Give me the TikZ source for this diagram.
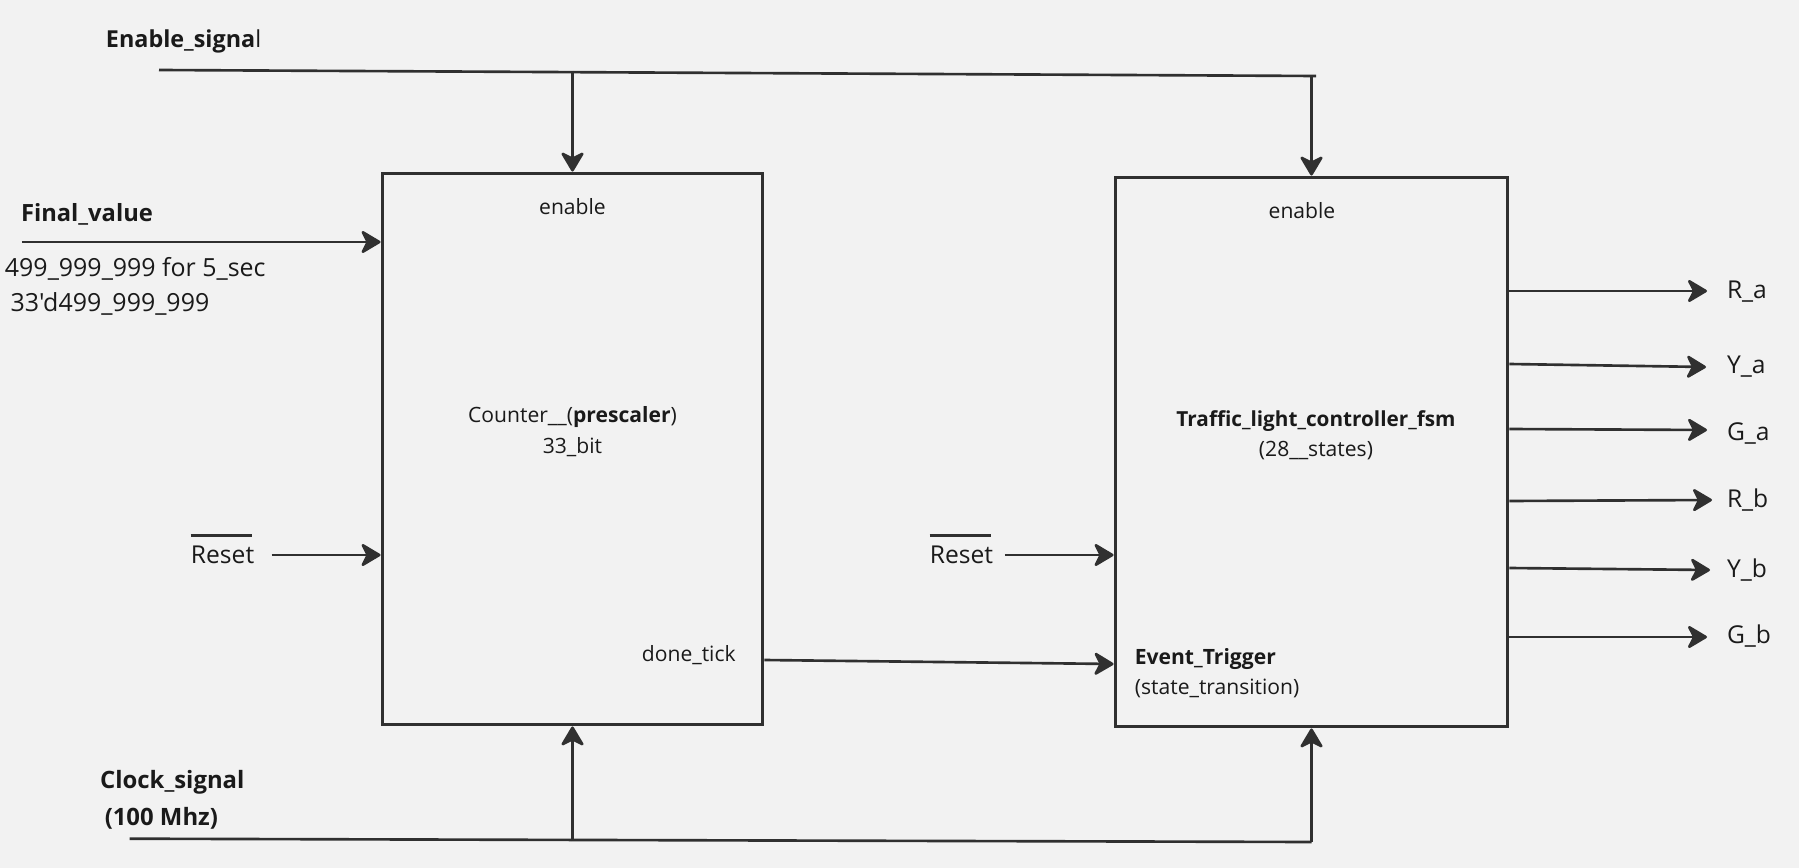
\documentclass[tikz,border=0pt]{standalone}
\usepackage{fontspec}
\setmainfont{Open Sans}[Ligatures=TeXOff]
\usetikzlibrary{arrows.meta}

\definecolor{paper}{HTML}{F2F2F2}
\definecolor{ink}{HTML}{303030}
\definecolor{txt}{HTML}{1A1A1A}

\tikzset{
	sig/.style={-{Stealth[length=0.44cm, width=0.52cm, inset=0.13cm, round]}, draw=ink, line width=1.5pt},
	wire/.style={draw=ink, line width=1.5pt},
	blk/.style={draw=ink, line width=1.7pt, fill=paper},
	lbl/.style={text=txt, inner sep=0pt, font=\fontsize{12}{14}\selectfont},
	outlbl/.style={text=txt, anchor=west, inner sep=0pt, outer sep=0.4cm, font=\fontsize{14}{16}\selectfont}
}

\begin{document}
\begin{tikzpicture}[x=0.02cm, y=-0.02cm]
		\fill[paper] (0,0) rectangle (1799,868);
		\useasboundingbox (0,0) rectangle (1799,868);

		% the two blocks
		\node (cnt) [blk, minimum width=7.62cm, minimum height=11.04cm] at (572.5,449) {};
		\node (fsm) [blk, minimum width=7.86cm, minimum height=11.0cm] at (1311.5,452) {};

		\node (enA) [lbl] at (572.5,207) {enable};
		\node (enB) [lbl] at (1302,210.5) {enable};
		\node (cntTxt) [lbl, align=center, font=\fontsize{12}{17.6}\selectfont] at (572.5,431.5) {Counter\_\_(\textbf{prescaler})\\33\_bit};
		\node (fsmTxt) [lbl, align=center, font=\fontsize{12}{17.2}\selectfont] at (1316,435) {{\fontsize{11.8}{17.2}\selectfont\bfseries Traffic\_light\_controller\_fsm}\\(28\_\_states)};
		\node (dt) [lbl, anchor=east] at (736,655) {done\_tick};
		\node (evt) [lbl, anchor=west, align=left, font=\fontsize{12}{17.2}\selectfont] at (1134.5,673) {\textbf{Event\_Trigger}\\(state\_transition)};

		% enable bus
		\node (ensig) [lbl, anchor=west, font=\fontsize{13.3}{15}\selectfont] at (105.6,41) {\textbf{Enable\_signa}l};
		\coordinate (enS) at (159,70);
		\coordinate (enE) at (1316,76);
		\draw[wire] (enS) -- (enE);
		\draw[sig] (cnt.north |- 0,71) -- (cnt.north);
		\draw[sig] (fsm.north |- enE) -- (fsm.north);

		% final value
		\node (fv) [lbl, anchor=west, font=\fontsize{13.5}{15}\selectfont\bfseries] at (20.7,214.5) {Final\_value};
		\node (fvA) [lbl, anchor=west, font=\fontsize{14.2}{16}\selectfont] at (4.6,268.5) {499\_999\_999 for 5\_sec};
		\node (fvB) [lbl, anchor=west, font=\fontsize{14.2}{16}\selectfont] at (10.3,304) {33'd499\_999\_999};
		\coordinate (fvS) at (21.8,242);
		\draw[sig] (fvS) -- (fvS -| cnt.west);

		% resets
		\node (rstA) [lbl, font=\fontsize{14}{16}\selectfont] at (222.6,555) {Reset};
		\draw[wire] ([yshift=0.2cm]rstA.north west) -- ([yshift=0.2cm, xshift=-0.05cm]rstA.north east);
		\draw[sig] ([xshift=0.34cm]rstA.east) -- (rstA.east -| cnt.west);
		\node (rstB) [lbl, font=\fontsize{14}{16}\selectfont] at (961.5,555) {Reset};
		\draw[wire] ([yshift=0.2cm]rstB.north west) -- ([yshift=0.2cm, xshift=-0.05cm]rstB.north east);
		\draw[sig] ([xshift=0.23cm]rstB.east) -- (rstB.east -| fsm.west);

		% tick
		\draw[sig] (cnt.east |- 0,660) -- (fsm.west |- 0,664);

		% clock bus
		\node (clk) [lbl, anchor=west, font=\fontsize{13.6}{15}\selectfont\bfseries] at (99.8,782.5) {Clock\_signal};
		\node (clkB) [lbl, anchor=west, font=\fontsize{13.6}{15}\selectfont\bfseries] at (104.4,818) {(100 Mhz)};
		\coordinate (ckS) at (129.6,838.7);
		\coordinate (ckE) at (1311.5,842);
		\draw[wire] (ckS) -- (ckE);
		\draw[sig] (cnt.south |- 0,841) -- (cnt.south);
		\draw[sig] (ckE) -- (fsm.south);

		% outputs
		\node (ra) [outlbl] at (1707,292) {R\_a};
		\node (ya) [outlbl] at (1707,367) {Y\_a};
		\node (ga) [outlbl] at (1707,433) {G\_a};
		\node (rb) [outlbl] at (1707,500) {R\_b};
		\node (yb) [outlbl] at (1707,570) {Y\_b};
		\node (gb) [outlbl] at (1707,636) {G\_b};
		\draw[sig] (fsm.east |- 0,291) -- ([yshift=0.02cm]ra.west);
		\draw[sig] (fsm.east |- 0,364) -- ([xshift=-0.02cm]ya.west);
		\draw[sig] (fsm.east |- 0,429) -- ([yshift=0.06cm]ga.west);
		\draw[sig] (fsm.east |- 0,501) -- ([xshift=0.1cm]rb.west);
		\draw[sig] (fsm.east |- 0,568) -- ([xshift=0.06cm]yb.west);
		\draw[sig] (fsm.east |- 0,637) -- ([yshift=-0.02cm]gb.west);
	\end{tikzpicture}
\end{document}
